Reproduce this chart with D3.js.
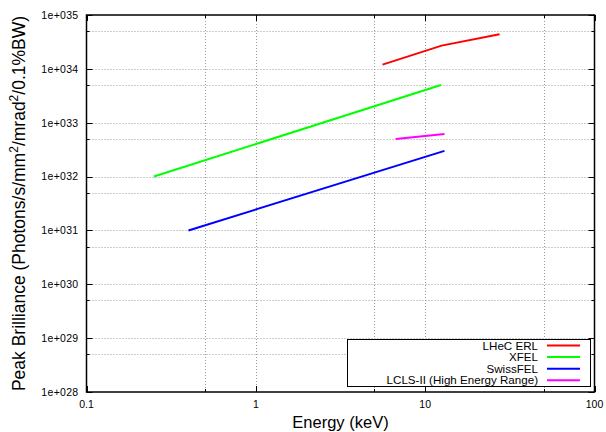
<!DOCTYPE html>
<html>
<head>
<meta charset="utf-8">
<script src="https://cdn.jsdelivr.net/npm/d3@7"></script>
<style>
  body { margin: 0; background: #fff; }
  svg { font-family: "Liberation Sans", Arial, sans-serif; }
</style>
</head>
<body>
<svg width="606" height="432"></svg>
<script>
// series (energy in keV, brilliance)
let lhecEnergy = [5.6, 12.5, 27.5]
let lhecBrill = [1.2e34, 2.7e34, 4.4e34]
let xfelEnergy = [0.25, 12.4]
let xfelBrill = [1e32, 5e33]
let swissEnergy = [0.4, 13]
let swissBrill = [1e31, 3e32]
let lclsEnergy = [6.7, 13]
let lclsBrill = [5e32, 6.2e32]

let seriesNames = ['LHeC ERL', 'XFEL', 'SwissFEL', 'LCLS-II (High Energy Range)']
let seriesColors = ['#ff0000', '#00ff00', '#0000ff', '#ff00ff']

let xTicks = [0.1, 1, 10, 100]
let xTickLabels = ['0.1', '1', '10', '100']
let yTicks = [1e28, 1e29, 1e30, 1e31, 1e32, 1e33, 1e34, 1e35]
let yTickLabels = ['1e+028', '1e+029', '1e+030', '1e+031', '1e+032', '1e+033', '1e+034', '1e+035']
let xMinor = [0.5, 5, 50]
let yMinor = [5e28, 5e29, 5e30, 5e31, 5e32, 5e33, 5e34]

let pLeft = 86.5, pRight = 594.5, pTop = 15, pBottom = 392

let svg = d3.select('svg')

let x = d3.scaleLog().domain([0.1, 100]).range([pLeft, pRight])
let y = d3.scaleLog().domain([1e28, 1e35]).range([pBottom, pTop])

// grid
let grid = svg.append('g')
  .attr('stroke', '#999')
  .attr('stroke-width', 1)
  .attr('stroke-dasharray', '1,2')
grid.selectAll('.gx')
  .data(xTicks.slice(1, -1).concat(xMinor))
  .enter()
  .append('line')
  .attr('x1', d => Math.round(x(d)) + 0.5)
  .attr('x2', d => Math.round(x(d)) + 0.5)
  .attr('y1', pTop)
  .attr('y2', pBottom)
grid.selectAll('.gy')
  .data(yTicks.slice(1, -1).concat(yMinor))
  .enter()
  .append('line')
  .attr('y1', d => Math.round(y(d)) + 0.5)
  .attr('y2', d => Math.round(y(d)) + 0.5)
  .attr('x1', pLeft)
  .attr('x2', pRight)

// ticks (inside, on all four sides)
let ticks = svg.append('g').attr('stroke', '#000').attr('stroke-width', 1)
xTicks.concat(xMinor).forEach(function (d) {
  let len = xMinor.includes(d) ? 3 : 6
  let px = Math.round(x(d)) + 0.5
  ticks.append('line').attr('x1', px).attr('x2', px).attr('y1', pBottom).attr('y2', pBottom - len)
  ticks.append('line').attr('x1', px).attr('x2', px).attr('y1', pTop).attr('y2', pTop + len)
})
yTicks.concat(yMinor).forEach(function (d) {
  let len = yMinor.includes(d) ? 3 : 6
  let py = Math.round(y(d)) + 0.5
  ticks.append('line').attr('y1', py).attr('y2', py).attr('x1', pLeft).attr('x2', pLeft + len)
  ticks.append('line').attr('y1', py).attr('y2', py).attr('x1', pRight).attr('x2', pRight - len)
})

// tick labels
svg.append('g').selectAll('text')
  .data(xTicks)
  .enter()
  .append('text')
  .attr('x', d => x(d))
  .attr('y', pBottom + 16)
  .attr('text-anchor', 'middle')
  .attr('font-size', 10.5)
  .text((d, i) => xTickLabels[i])

svg.append('g').selectAll('text')
  .data(yTicks)
  .enter()
  .append('text')
  .attr('x', pLeft - 8)
  .attr('y', d => y(d) + 3.8)
  .attr('text-anchor', 'end')
  .attr('font-size', 10.5)
  .attr('letter-spacing', 0.3)
  .text((d, i) => yTickLabels[i])

// border
svg.append('rect')
  .attr('x', pLeft)
  .attr('y', pTop)
  .attr('width', pRight - pLeft)
  .attr('height', pBottom - pTop)
  .attr('fill', 'none')
  .attr('stroke', '#000')
  .attr('stroke-width', 1.5)

// series lines
let allSeries = [
  [lhecEnergy, lhecBrill],
  [xfelEnergy, xfelBrill],
  [swissEnergy, swissBrill],
  [lclsEnergy, lclsBrill]
]
let line = d3.line().x(d => x(d[0])).y(d => y(d[1]))
svg.append('g').selectAll('path')
  .data(allSeries)
  .enter()
  .append('path')
  .attr('d', d => line(d3.zip(d[0], d[1])))
  .attr('fill', 'none')
  .attr('stroke', (d, i) => seriesColors[i])
  .attr('stroke-width', 2)

// legend
let legend = svg.append('g')
legend.append('rect')
  .attr('x', 347.5)
  .attr('y', 339.5)
  .attr('width', 243)
  .attr('height', 47)
  .attr('fill', '#fff')
  .attr('stroke', '#000')
  .attr('stroke-width', 1)
let rows = legend.selectAll('.row')
  .data(seriesNames)
  .enter()
  .append('g')
  .attr('transform', (d, i) => `translate(0, ${345.5 + i * 11.6})`)
rows.append('text')
  .attr('x', 538)
  .attr('y', 4)
  .attr('text-anchor', 'end')
  .attr('font-size', 11.6)
  .text(d => d)
rows.append('line')
  .attr('x1', 547)
  .attr('x2', 580)
  .attr('y1', 0)
  .attr('y2', 0)
  .attr('stroke', (d, i) => seriesColors[i])
  .attr('stroke-width', 2)

// axis titles
svg.append('text')
  .attr('x', 340.5)
  .attr('y', 428)
  .attr('text-anchor', 'middle')
  .attr('font-size', 16.5)
  .text('Energy (keV)')

let yl = svg.append('text')
  .attr('transform', `translate(25, ${(pTop + pBottom) / 2}) rotate(-90)`)
  .attr('text-anchor', 'middle')
  .attr('font-size', 17.5)
yl.append('tspan').text('Peak Brilliance (Photons/s/mm')
yl.append('tspan').attr('dy', -7).attr('font-size', 12).text('2')
yl.append('tspan').attr('dy', 7).text('/mrad')
yl.append('tspan').attr('dy', -7).attr('font-size', 12).text('2')
yl.append('tspan').attr('dy', 7).text('/0.1%BW)')
</script>
</body>
</html>
